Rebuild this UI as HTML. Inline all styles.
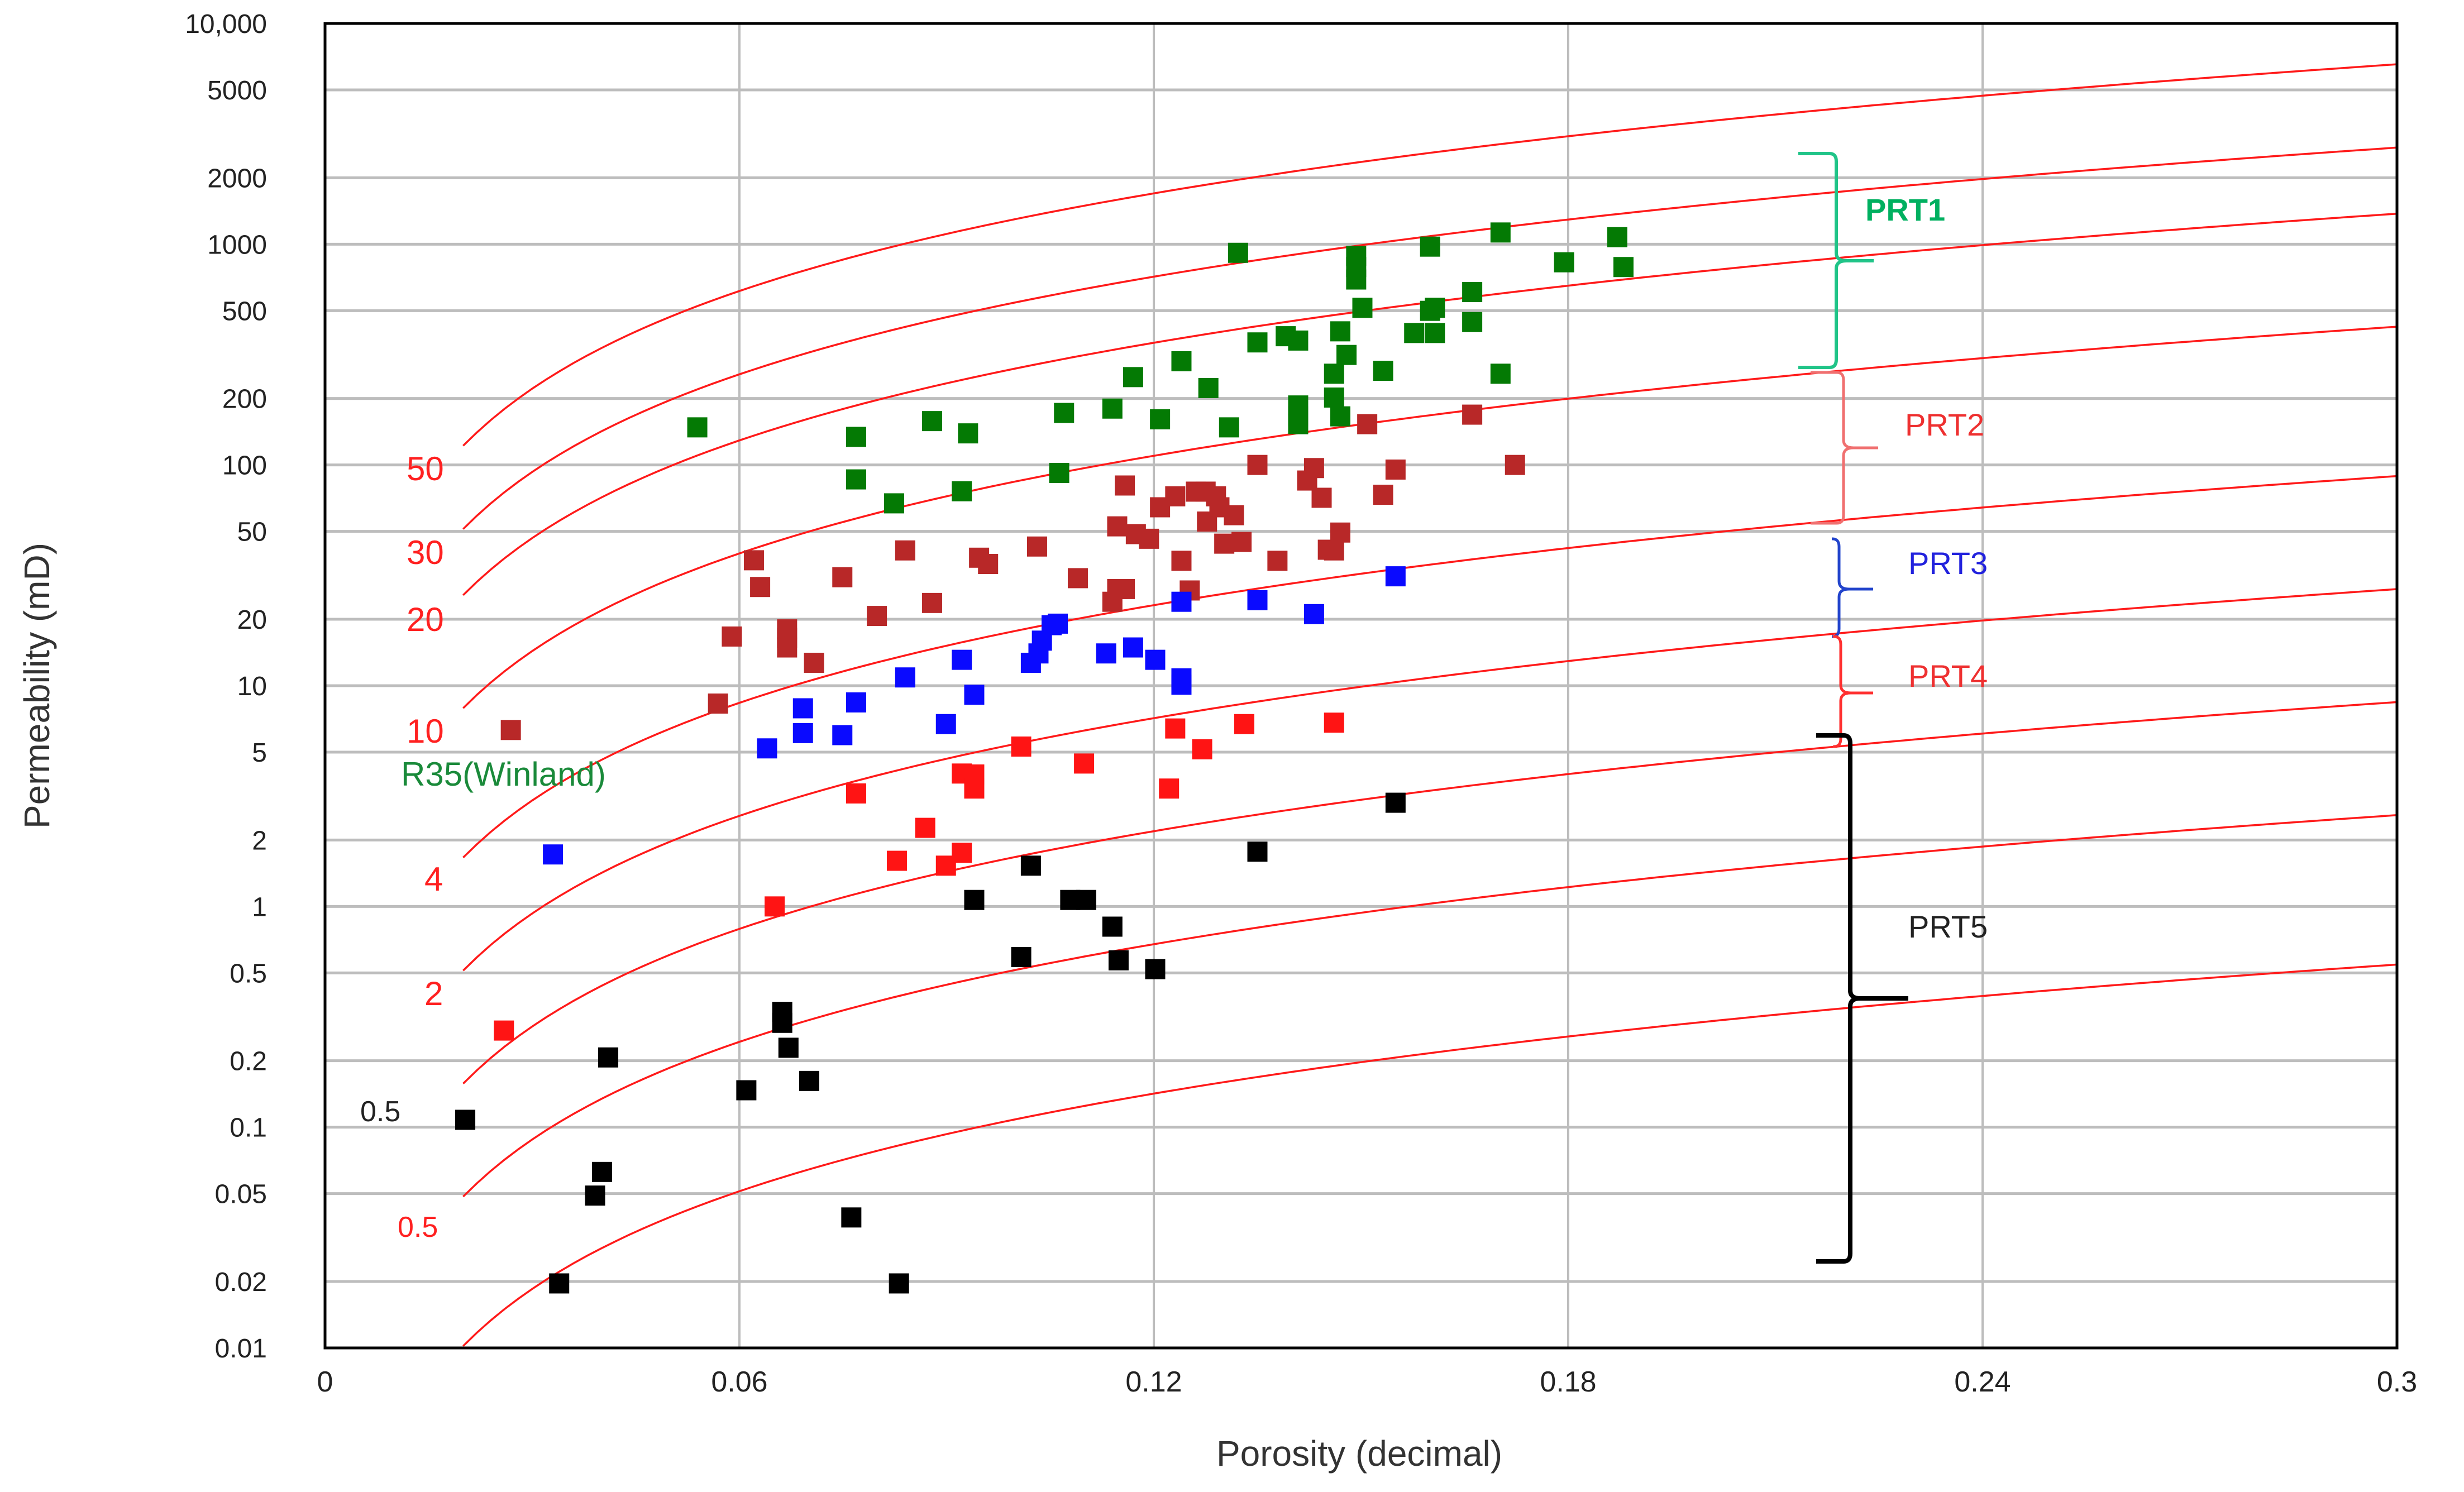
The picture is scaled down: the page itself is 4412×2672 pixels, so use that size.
<!DOCTYPE html>
<html><head><meta charset="utf-8"><style>
html,body{margin:0;padding:0;background:#fff}
svg{display:block;font-family:"Liberation Sans",sans-serif}
</style></head><body>
<svg id="chart" width="4412" height="2672" viewBox="0 0 4412 2672" xmlns="http://www.w3.org/2000/svg">
<rect x="0" y="0" width="4412" height="2672" fill="#fff"/>
<g id="grid"></g>
<g id="curves"></g>
<g id="points"></g>
<rect x="582" y="42" width="3710" height="2372" fill="none" stroke="#000" stroke-width="5"/>
<g id="yticks" font-size="48" fill="#222" text-anchor="end"></g>
<g id="xticks" font-size="52" fill="#222" text-anchor="middle"></g>
<text x="0" y="0" transform="translate(88,1228) rotate(-90)" text-anchor="middle" font-size="64" fill="#333">Permeability (mD)</text>
<text x="2434" y="2625" text-anchor="middle" font-size="64" fill="#333">Porosity (decimal)</text>
<g font-size="60">
<text x="728" y="860" fill="#ff2020">50</text>
<text x="728" y="1010" fill="#ff2020">30</text>
<text x="728" y="1130" fill="#ff2020">20</text>
<text x="728" y="1330" fill="#ff2020">10</text>
<text x="718" y="1407" fill="#1a8a3a">R35(Winland)</text>
<text x="760" y="1595" fill="#ff2020">4</text>
<text x="760" y="1800" fill="#ff2020">2</text>
<text x="645" y="2008" fill="#222" font-size="52">0.5</text>
<text x="712" y="2215" fill="#ff2020" font-size="52">0.5</text>
</g>
<g id="braces" fill="none" stroke-linejoin="round"></g>
<g font-size="56">
<text x="3340" y="395" fill="#00b060" font-weight="bold">PRT1</text>
<text x="3411" y="780" fill="#ee3030">PRT2</text>
<text x="3417" y="1028" fill="#2222dd">PRT3</text>
<text x="3417" y="1230" fill="#ee3030">PRT4</text>
<text x="3417" y="1679" fill="#222">PRT5</text>
</g>
</svg>
<script>
const yTickValues=[10000,5000,2000,1000,500,200,100,50,20,10,5,2,1,0.5,0.2,0.1,0.05,0.02,0.01];
const yTickLabels=["10,000","5000","2000","1000","500","200","100","50","20","10","5","2","1","0.5","0.2","0.1","0.05","0.02","0.01"];
const xTickValues=[0,0.06,0.12,0.18,0.24,0.3];
const xTickLabels=["0","0.06","0.12","0.18","0.24","0.3"];
const r35Values=[50,30,20,10,4,2,1,0.5,0.2];
const greenX=[0.0539,0.0769,0.0769,0.0824,0.0879,0.0931,0.0922,0.1070,0.1063,0.1140,0.1170,0.1209,0.1240,0.1279,0.1309,0.1322,0.1350,0.1391,0.1409,0.1409,0.1409,0.1409,0.1461,0.1461,0.1470,0.1470,0.1479,0.1493,0.1493,0.1493,0.1502,0.1532,0.1577,0.1600,0.1607,0.1607,0.1600,0.1661,0.1661,0.1702,0.1702,0.1794,0.1871,0.1880];
const greenK=[148,134,86,67,158,139,76,172,92,180,250,161,295,223,148,914,359,383,366,186,166,153,259,202,403,166,315,885,788,692,515,267,396,975,515,396,499,607,444,259,1130,828,1076,788];
const brownX=[0.0269,0.0569,0.0589,0.0621,0.0630,0.0669,0.0669,0.0669,0.0708,0.0749,0.0799,0.0840,0.0879,0.0947,0.0960,0.1031,0.1090,0.1147,0.1158,0.1147,0.1140,0.1158,0.1174,0.1193,0.1209,0.1231,0.1240,0.1252,0.1261,0.1275,0.1290,0.1295,0.1277,0.1302,0.1316,0.1327,0.1350,0.1379,0.1422,0.1432,0.1443,0.1452,0.1470,0.1461,0.1509,0.1532,0.1550,0.1661,0.1723];
const brownK=[6.3,8.3,16.7,37,28,18,14.9,16.5,12.7,31,20.7,41,23.7,38,35.6,42.7,30.7,52.7,80.7,27.4,24,27.4,48.6,46.3,64.3,72.1,36.8,27,75.7,75.7,72.1,64.3,55.4,44,59.2,44.8,100,36.8,85,96.8,71,41.3,49.4,41,153,73.3,95.3,169,100];
const blueX=[0.0330,0.0640,0.0692,0.0692,0.0749,0.0769,0.0840,0.0899,0.0922,0.0940,0.1022,0.1033,0.1038,0.1052,0.1061,0.1131,0.1170,0.1202,0.1240,0.1240,0.1240,0.1350,0.1432,0.1550];
const blueK=[1.72,5.2,7.9,6.1,5.97,8.4,10.9,6.7,13.1,9.1,12.7,14,16,18.8,19.1,14,14.9,13.1,10.8,10.1,24,24.4,21.1,31.3];
const redX=[0.0259,0.0651,0.0769,0.0828,0.0869,0.0899,0.0922,0.0922,0.0940,0.0940,0.1008,0.1099,0.1222,0.1231,0.1270,0.1331,0.1461];
const redK=[0.274,1.0,3.25,1.61,2.27,1.53,4.0,1.75,3.96,3.42,5.3,4.44,3.42,6.4,5.15,6.7,6.8];
const blackX=[0.0203,0.0339,0.0391,0.0401,0.0410,0.0610,0.0662,0.0662,0.0671,0.0701,0.0762,0.0831,0.0940,0.1008,0.1022,0.1079,0.1102,0.1140,0.1149,0.1202,0.1350,0.1550];
const blackK=[0.108,0.0196,0.049,0.0627,0.207,0.147,0.333,0.297,0.229,0.162,0.039,0.0196,1.07,0.59,1.53,1.07,1.07,0.81,0.57,0.52,1.77,2.95];

const NS="http://www.w3.org/2000/svg";
const L=582,R=4292,T=42,B=2414;
function xs(v){return L+(v-0)/(0.3-0)*(R-L);}
function ys(k){return T+(4-Math.log10(k))/6*(B-T);}
function mk(tag,attrs,parent){const e=document.createElementNS(NS,tag);for(const a in attrs)e.setAttribute(a,attrs[a]);parent.appendChild(e);return e;}
const grid=document.getElementById('grid');
yTickValues.forEach((v,i)=>{
  const y=ys(v);
  if(i>0&&i<yTickValues.length-1){const ln=mk('line',{x1:L,x2:R,y1:y,y2:y,stroke:'#bdbdbd','stroke-width':5},grid);
  
  }
  const t=mk('text',{x:478,y:y+17},document.getElementById('yticks'));t.textContent=yTickLabels[i];
  
  
});
xTickValues.forEach((v,i)=>{
  const x=xs(v);
  if(i>0&&i<xTickValues.length-1){const ln=mk('line',{x1:x,x2:x,y1:T,y2:B,stroke:'#bdbdbd','stroke-width':4},grid);
  
  }
  const t=mk('text',{x:x,y:2492},document.getElementById('xticks'));t.textContent=xTickLabels[i];
  
  
});
// Winland R35 curves
const cg=document.getElementById('curves');
r35Values.forEach(r=>{
  let d='';
  for(let p=0.02;p<=0.3001;p+=0.002){
    const lk=(Math.log10(r)-0.732+0.864*Math.log10(p*100))/0.588;
    let y=ys(Math.pow(10,lk));
    d+=(d?'L':'M')+xs(p).toFixed(1)+','+y.toFixed(1);
  }
  const pth=mk('path',{d:d,fill:'none',stroke:'#ff1a1a','stroke-width':3.5},cg);
  
  
});
const pg=document.getElementById('points');
function drawSeries(X,K,col,name){
  X.forEach((x,i)=>{
    const s=36;
    const r=mk('rect',{x:xs(x)-s/2,y:ys(K[i])-s/2,width:s,height:s,fill:col},pg);
    
    
  });
}
drawSeries(greenX,greenK,'#047a04','prt1-point');
drawSeries(brownX,brownK,'#b82828','prt2-point');
drawSeries(blueX,blueK,'#0a0aff','prt3-point');
drawSeries(redX,redK,'#ff1414','prt4-point');
drawSeries(blackX,blackK,'#000','prt5-point');
// braces
const bg=document.getElementById('braces');
function brace(left,vx,top,tip,bot,tipx,col,w,name){
  const d=`M${left},${top} L${vx-12},${top} Q${vx},${top} ${vx},${top+14} L${vx},${tip-14} Q${vx},${tip} ${vx+18},${tip} L${tipx},${tip} M${vx+18},${tip} Q${vx},${tip} ${vx},${tip+14} L${vx},${bot-14} Q${vx},${bot} ${vx-12},${bot} L${left},${bot}`;
  const p=mk('path',{d:d,stroke:col,'stroke-width':w},bg);
  
  
}
brace(3220,3288,275,467,658,3355,'#20c488',6,'prt1-brace');
brace(3242,3301,667,802,937,3363,'#f07070',5,'prt2-brace');
brace(3280,3293,965,1055,1140,3354,'#2244cc',5,'prt3-brace');
brace(3290,3296,1140,1241,1337,3354,'#ff3030',5,'prt4-brace');
brace(3252,3313,1317,1788,2259,3417,'#000',8,'prt5-brace');
</script>
</body></html>
